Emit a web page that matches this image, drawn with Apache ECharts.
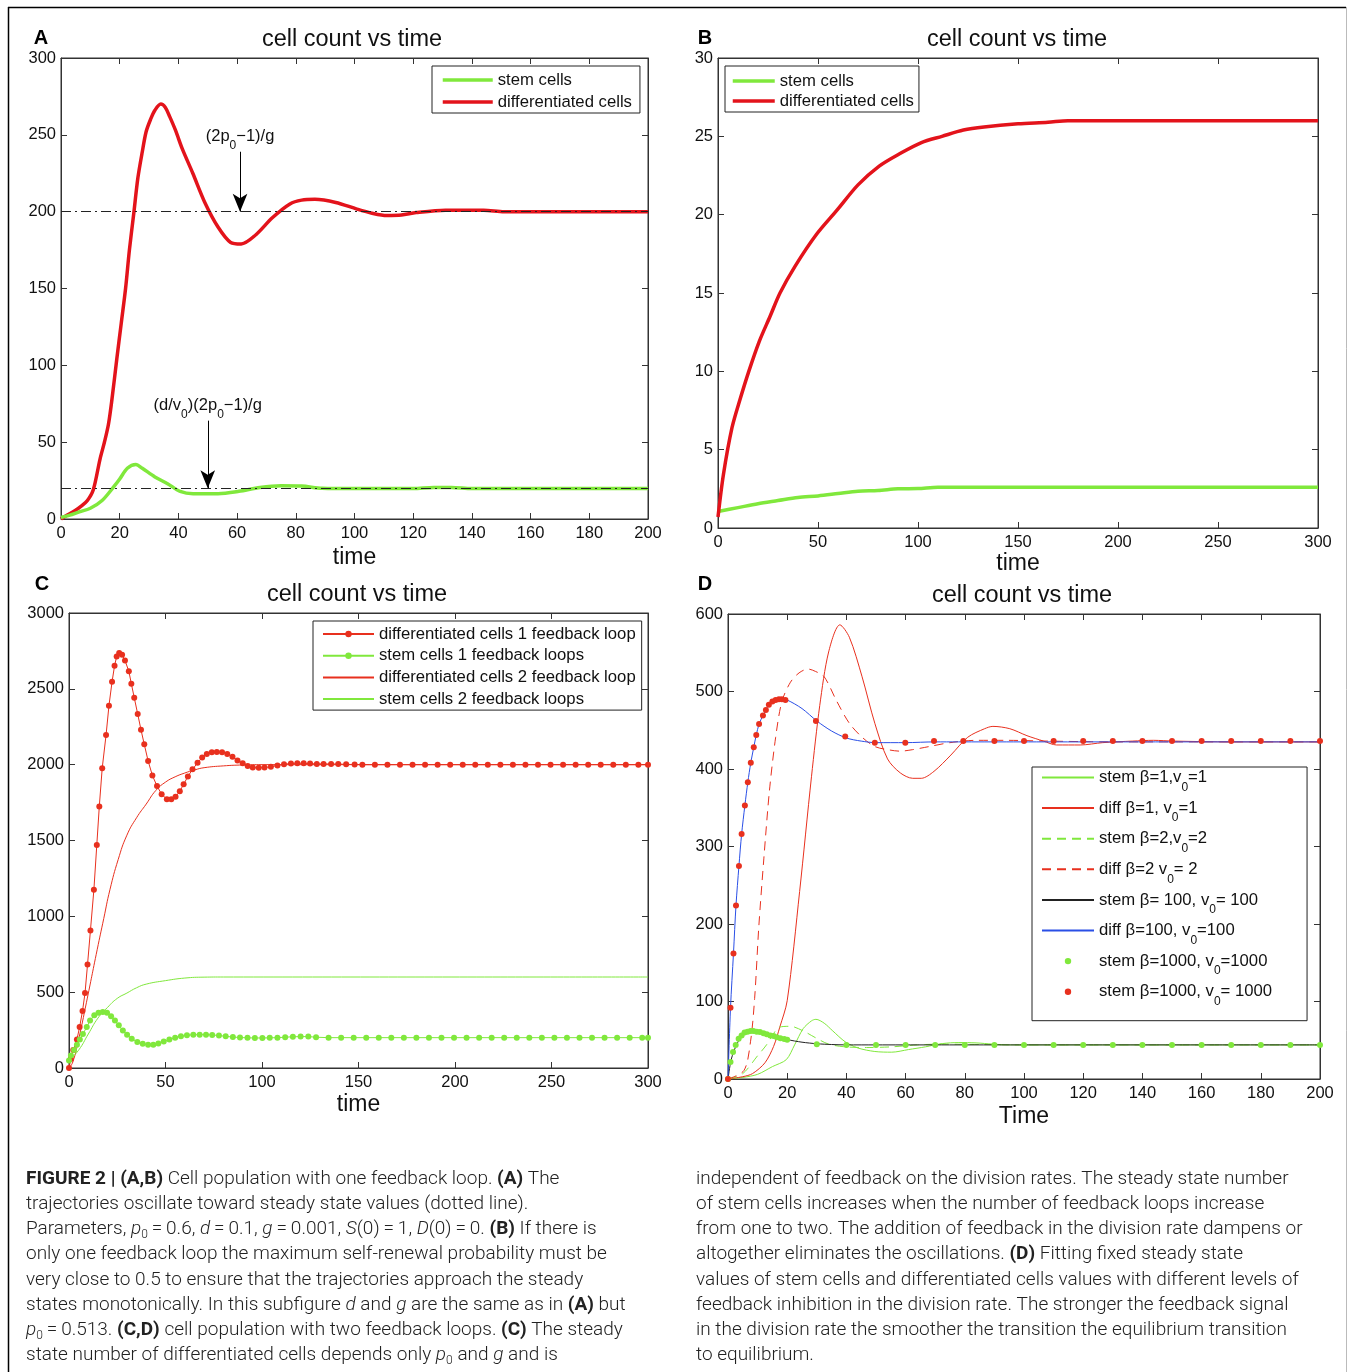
<!DOCTYPE html>
<html><head><meta charset="utf-8">
<script src="https://cdn.jsdelivr.net/npm/echarts@6/dist/echarts.min.js"></script>
<style>html,body{margin:0;padding:0;background:#fff}#c{width:1354px;height:1372px}</style>
</head><body><div id="c"></div><script>
// ---------- Panel A ----------
const diffA_t = [0,2,4.7,7,9,11,13.3,14.8,16.2,17.5,19,20.5,22,23.3,24.8,26.2,27.7,29,30.5,32,34,35.5,37,39,41.3,44.9,49,53.5,57.8,61.4,66.4,72,78,82,86.5,93.6,100.8,106,111,116,121,131,144,151,160,180,200];
const diffA_v = [0,2.5,5.3,8.5,12,19,39,50,62,80,104,127,150,175,199,222,239,252,260,266,270,268,262,253,241,225,206,190,180,179,185,196,205,207.5,208,206,201.7,199,197.5,197.8,199.4,201,201,200,200,200,200];
const stemA_t = [0,3,6,10,14,18,20,22.6,25.5,27.7,32,36.3,40.6,45,53.5,60.6,67.8,75,82,89,100,120,127,133,140,160,180,200];
const stemA_v = [1,2.5,4.5,7,12,21,26,33,35.5,33,27.4,23,18,16.5,16.5,18,20.5,21.6,21.4,20,19.8,19.8,20.5,20.5,19.8,19.8,19.8,19.8];
const steadyA = [200, 20];
// ---------- Panel B ----------
const diffB_t = [0,2.7,7,11,15.4,20.6,26,31,38.5,49,59.6,70,80.6,91,101.7,112,122.7,133,150,165,175,200,250,300];
const diffB_v = [0.7,3.4,6.4,8.2,10,11.9,13.5,15,16.7,18.7,20.3,21.9,23.1,23.9,24.6,25,25.4,25.6,25.8,25.9,26,26,26,26];
const stemB_t = [0,10,20,30,40,50,60,70,80,90,100,110,150,200,250,300];
const stemB_v = [1.05,1.3,1.55,1.75,1.95,2.05,2.2,2.35,2.4,2.5,2.52,2.6,2.6,2.6,2.6,2.6];
// ---------- Panel C ----------
const diffC1_t = [0,1,2.2,4.1,5.5,7,8.3,9.6,11.1,12.9,14.4,15.7,17.2,19.2,20.7,22.3,23.6,24.7,26,27.5,29,31,32.3,33.8,35.6,37.3,39,41,43.2,45.6,48,50.7,53,55.2,57.4,59.4,61.6,64,66.6,69,71.4,74,76.6,79.3,82,84.7,87.3,90,92.6,95.2,98.3,101.3,104.6,108,111.4,115,118.3,121.6,124.9,128.4,131.9,135.8,139.5,143.6,148,152,158.5,165,171.5,178,184.5,191,197.5,204,210.5,217,223.5,230,236.5,243,249.5,256,262.5,269,275.5,282,288.5,295,300];
const diffC1_v = [0,60,118,188,270,376,494,682,906,1176,1470,1725,1976,2195,2388,2546,2652,2713,2736,2725,2687,2616,2534,2442,2334,2230,2134,2024,1929,1859,1805,1772,1772,1788,1824,1871,1922,1969,2012,2047,2071,2082,2084,2082,2071,2052,2028,2009,1991,1981,1979,1981,1986,1995,2003,2008,2010,2009,2007,2005,2005,2005,2004,2002,2001,2000,2000,2000,2000,2000,2000,2000,2000,2000,2000,2000,2000,2000,2000,2000,2000,2000,2000,2000,2000,2000,2000,2000,2000];
const stemC1_t = [0,1,2.6,4.1,5.6,7.2,9.2,10.9,13.1,15.3,17.5,19.7,21.8,23.8,25.8,27.9,30.1,32.5,35.4,38.2,41,43.7,46.3,49.1,52,55,58,61.1,64.4,67.7,71,74.2,77.7,81.2,84.9,88.6,92.5,96.3,100.2,104,108,112,116,120,124,128,134.5,141,147.5,154,160.5,167,173.5,180,186.5,193,199.5,206,212.5,219,225.5,232,238.5,245,251.5,258,264.5,271,277.5,284,290.5,297,300];
const stemC1_v = [50,82,118,153,188,224,270,313,348,365,369,365,341,313,282,247,219,193,172,160,153,153,162,174,188,200,210,216,219,220,220,218,214,209,204,201,199,198,198,199,200,203,206,207,207,203,200,200,200,200,200,200,200,200,200,200,200,200,200,200,200,200,200,200,200,200,200,200,200,200,200,200,200];
const diffC2_t = [0,2,5,9,14.6,18,21.2,25.5,30,35,40,45,50,55,60,65,70,80,90,100,300];
const diffC2_v = [0,40,190,430,780,985,1175,1375,1535,1650,1740,1830,1885,1920,1945,1965,1980,1992,1998,2000,2000];
const stemC2_t = [0,5,10,15,20,25,30,35,40,50,60,70,80,300];
const stemC2_v = [50,118,224,329,400,459,494,529,553,576,593,599,600,600];
// ---------- Panel D ----------
const stem1D_t = [0,5,10,15,19.7,22.5,25.4,28.2,29.7,32.5,35.4,39.6,43.9,49.6,55.3,61,66.7,72.4,78,83.8,89.5,95,110,130,150,200];
const stem1D_v = [0,2,6,16,25,44,65,75,77,72,62,48,40,35.5,34.6,38,41.5,45.7,47,46.6,45,44,44,44,44,44];
const diff1D_t = [0,5,8.3,12.5,15.4,17.5,20,24.2,28.2,31,34,37.8,41,45.3,49.6,53.9,58.2,62.4,65.3,69.6,75.3,81,86.7,89.5,95.2,101,106.6,111,119,126.6,136.6,143.7,150.8,170,200];
const diff1D_v = [0,3,7,21,42,67,101,242,390,482,551,586,570,519,459,413,395,388,388,397,418,441,452,455,452,443,436,431,431,434,436,437,436,435,435];
const stem2D_t = [0,5,10,13,16,17.5,21.1,25.4,29.7,34,39.6,46.8,55.3,63.9,72,85,100,200];
const stem2D_v = [0,7,30,44,62,67,68,62,53,45,41.5,40.6,41.5,44,45,44.5,44,44];
const diff2D_t = [0,5.4,7.6,9,10.4,12.1,14,16.1,18.2,21.1,24,27,29.5,32.5,36.8,41,45.3,49.6,53.9,58.2,62.4,68,75,84,94,108,130,200];
const diff2D_v = [0,11,48,104,196,284,372,441,487,512,524,529,526,519,487,459,441,429,425,423,425,429,434,437,437,436,435,435];
const stem100D_t = [0,1,2,3,4,5,6,8,10,12,14,16,18,20,25,30,35,40,50,200];
const stem100D_v = [0,24,36,45,52,56,59,61.5,61,59,56.5,54.5,52.5,50.8,47.5,45.5,44.5,44,44,44];
const diff100D_t = [0,0.85,1.85,2.7,3.7,4.6,5.7,6.7,7.7,8.7,9.55,10.5,11.8,12.8,13.8,15,16.1,17.2,18.2,20,25,30,35,40,45,50,60,70,200];
const diff100D_v = [0,92,162,224,275,316,353,383,408,428,444,458,469,476,483,487,489,490,490,489,478,462,449,440,436,434,434,435,435];
const stem1000D_t = [0,0.85,1.7,2.6,3.6,4.6,5.6,6.6,7.6,8.6,9.7,10.8,12,13.1,14.3,15.4,16.5,17.7,19,20,30,40,50,60,70,80,90,100,110,120,130,140,150,160,170,180,190,200];
const stem1000D_v = [0,22,35,44,52,56,60,61,62,62,61,60.5,59,57.7,56,55.4,54,52.6,51.7,50.8,45,44,44,44,44,44,44,44,44,44,44,44,44,44,44,44,44,44];
const diff1000D_t = [0,0.85,1.85,2.7,3.7,4.6,5.7,6.7,7.7,8.7,9.55,10.5,11.8,12.8,13.8,15,16.1,17.2,18.2,19.4,29.7,39.6,49.6,59.9,69.6,79.5,90,100,110,120,130,140,150,160,170,180,190,200];
const diff1000D_v = [0,92,162,224,275,316,353,383,408,428,444,458,469,476,483,487,489,490,490,489,462,442,434,434,436,436,436,436,436,436,436,436,436,436,436,436,436,436];

// ---------- labels ----------
const titleText = 'cell count vs time';
const legendA = ['stem cells', 'differentiated cells'];
const legendC = ['differentiated cells 1 feedback loop', 'stem cells 1 feedback loops', 'differentiated cells 2 feedback loop', 'stem cells 2 feedback loops'];
// D legend labels: [before subscript, subscript, after]
const legendD = [
  ['stem β=1,v', '0', '=1'],
  ['diff β=1, v', '0', '=1'],
  ['stem β=2,v', '0', '=2'],
  ['diff β=2 v', '0', '= 2'],
  ['stem β= 100, v', '0', '= 100'],
  ['diff β=100, v', '0', '=100'],
  ['stem β=1000, v', '0', '=1000'],
  ['stem β=1000, v', '0', '= 1000']
];
const captionLeft = [
  '{b|FIGURE 2 | (A,B)} Cell population with one feedback loop. {b|(A)} The',
  'trajectories oscillate toward steady state values (dotted line).',
  'Parameters, {i|p}{s|0}\u2009=\u20090.6, {i|d}\u2009=\u20090.1, {i|g}\u2009=\u20090.001, {i|S}(0)\u2009=\u20091, {i|D}(0)\u2009=\u20090. {b|(B)} If there is',
  'only one feedback loop the maximum self-renewal probability must be',
  'very close to 0.5 to ensure that the trajectories approach the steady',
  'states monotonically. In this subfigure {i|d} and {i|g} are the same as in {b|(A)} but',
  '{i|p}{s|0}\u2009=\u20090.513. {b|(C,D)} cell population with two feedback loops. {b|(C)} The steady',
  'state number of differentiated cells depends only {i|p}{s|0} and {i|g} and is'
];
const captionRight = [
  'independent of feedback on the division rates. The steady state number',
  'of stem cells increases when the number of feedback loops increase',
  'from one to two. The addition of feedback in the division rate dampens or',
  'altogether eliminates the oscillations. {b|(D)} Fitting fixed steady state',
  'values of stem cells and differentiated cells values with different levels of',
  'feedback inhibition in the division rate. The stronger the feedback signal',
  'in the division rate the smoother the transition the equilibrium transition',
  'to equilibrium.'
];

// ---------- build ----------
const FONT = '"Liberation Sans", Arial, Helvetica, sans-serif';
const GREEN = '#80e83c', RED = '#e3131b', DRED = '#e8301e', BLUE = '#2a4fe6';
const zip = (t, v) => t.map((x, i) => [x, v[i]]);

const grids = [
  {left: 61, top: 58, width: 587, height: 461},
  {left: 718, top: 58, width: 600, height: 470},
  {left: 69, top: 613, width: 579, height: 455},
  {left: 728, top: 614, width: 592, height: 465}
].map(g => Object.assign({show: true, borderColor: '#333', borderWidth: 1, backgroundColor: '#fff'}, g));

const xr = [[0,200,20],[0,300,50],[0,300,50],[0,200,20]];
const yr = [[0,300,50],[0,30,5],[0,3000,500],[0,600,100]];
const xNames = ['time','time','time','Time'];
const nameGaps = [27, 22, 25, 26];

const axisLbl = {fontFamily: FONT, fontSize: 16.5, color: '#111', formatter: v => String(v)};
const xAxes = [], yAxes = [];
for (let i = 0; i < 4; i++) {
  xAxes.push({type: 'value', gridIndex: i, min: xr[i][0], max: xr[i][1], interval: xr[i][2],
    name: xNames[i], nameLocation: 'middle', nameGap: nameGaps[i],
    nameTextStyle: {fontFamily: FONT, fontSize: 23, color: '#111'},
    axisLine: {show: true, onZero: false, lineStyle: {color: '#333'}},
    axisTick: {show: true, inside: true, length: 6, lineStyle: {color: '#333'}},
    axisLabel: Object.assign({margin: 6}, axisLbl), splitLine: {show: false}});
  yAxes.push({type: 'value', gridIndex: i, min: yr[i][0], max: yr[i][1], interval: yr[i][2],
    axisLine: {show: true, onZero: false, lineStyle: {color: '#333'}},
    axisTick: {show: true, inside: true, length: 6, lineStyle: {color: '#333'}},
    axisLabel: Object.assign({margin: 5}, axisLbl), splitLine: {show: false}});
}
for (let i = 0; i < 4; i++) {
  xAxes.push({type: 'value', gridIndex: i, position: 'top', min: xr[i][0], max: xr[i][1], interval: xr[i][2],
    axisLine: {show: true, onZero: false, lineStyle: {color: '#333'}},
    axisTick: {show: true, inside: true, length: 6, lineStyle: {color: '#333'}},
    axisLabel: {show: false}, splitLine: {show: false}});
  yAxes.push({type: 'value', gridIndex: i, position: 'right', min: yr[i][0], max: yr[i][1], interval: yr[i][2],
    axisLine: {show: true, onZero: false, lineStyle: {color: '#333'}},
    axisTick: {show: true, inside: true, length: 6, lineStyle: {color: '#333'}},
    axisLabel: {show: false}, splitLine: {show: false}});
}

function line(name, gi, data, color, width, extra) {
  return Object.assign({
    type: 'line', name, xAxisIndex: gi, yAxisIndex: gi, data,
    symbol: 'none', smooth: 0.3, silent: true, animation: false,
    lineStyle: {color, width}, itemStyle: {color}
  }, extra || {});
}

const dashDot = [10, 4, 2, 4];
const richLbl = {
  n: {fontFamily: FONT, fontSize: 16.5, color: '#111', lineHeight: 22},
  s: {fontFamily: FONT, fontSize: 12, color: '#111', lineHeight: 22, verticalAlign: 'bottom', padding: [0,0,-4,0]}
};

const series = [
  line('differentiated cells', 0, zip(diffA_t, diffA_v), RED, 3.5, {
    markLine: {silent: true, symbol: ['none','none'], animation: false,
      lineStyle: {color: '#222', width: 1, type: dashDot},
      label: {show: false},
      data: [{yAxis: steadyA[0]}, {yAxis: steadyA[1]}]}
  }),
  line('stem cells', 0, zip(stemA_t, stemA_v), GREEN, 3.5, {
    markLine: {silent: true, animation: false, symbol: ['none', 'arrow'], symbolSize: [11, 18],
      lineStyle: {color: '#000', width: 1, type: 'solid'},
      label: {show: true, position: 'start', distance: 4, rich: richLbl},
      data: [
        [{coord: [61, 239], label: {formatter: '{n|(2p}{s|0}{n|−1)/g}'}}, {coord: [61, steadyA[0]]}],
        [{coord: [50, 64], label: {formatter: '{n|(d/v}{s|0}{n|)(2p}{s|0}{n|−1)/g}'}}, {coord: [50, steadyA[1]]}]
      ]}
  }),
  line('stem cells', 1, zip(stemB_t, stemB_v), GREEN, 3.5),
  line('differentiated cells', 1, zip(diffB_t, diffB_v), RED, 3.5),
  line(legendC[0], 2, zip(diffC1_t, diffC1_v), DRED, 1, {symbol: 'circle', symbolSize: 6, showSymbol: true, smooth: false}),
  line(legendC[1], 2, zip(stemC1_t, stemC1_v), GREEN, 1, {symbol: 'circle', symbolSize: 6, showSymbol: true, smooth: false}),
  line(legendC[2], 2, zip(diffC2_t, diffC2_v), DRED, 1, {smooth: 0.5}),
  line(legendC[3], 2, zip(stemC2_t, stemC2_v), GREEN, 1, {smooth: 0.5}),
];
const dNames = legendD.map(a => a.join(''));
series.push(
  line(dNames[0], 3, zip(stem1D_t, stem1D_v), GREEN, 1),
  line(dNames[1], 3, zip(diff1D_t, diff1D_v), DRED, 1),
  line(dNames[2], 3, zip(stem2D_t, stem2D_v), GREEN, 1, {lineStyle: {color: GREEN, width: 1, type: [9, 6]}}),
  line(dNames[3], 3, zip(diff2D_t, diff2D_v), DRED, 1, {lineStyle: {color: DRED, width: 1, type: [9, 6]}}),
  line(dNames[4], 3, zip(stem100D_t, stem100D_v), '#222', 1),
  line(dNames[5], 3, zip(diff100D_t, diff100D_v), BLUE, 1),
  line(dNames[6], 3, zip(stem1000D_t, stem1000D_v), GREEN, 0, {symbol: 'circle', symbolSize: 6, showSymbol: true, lineStyle: {opacity: 0, width: 0}, z: 3}),
  line(dNames[7], 3, zip(diff1000D_t, diff1000D_v), DRED, 0, {symbol: 'circle', symbolSize: 6, showSymbol: true, lineStyle: {opacity: 0, width: 0}, z: 3})
);

const LFS = 16.7;
const legBase = {orient: 'vertical', selectedMode: false, backgroundColor: '#fff', borderColor: '#222', borderWidth: 1,
  textStyle: {fontFamily: FONT, fontSize: LFS, color: '#111', lineHeight: 20}, itemWidth: 50};
const thick = n => ({name: n, itemStyle: {opacity: 0}, lineStyle: {width: 3.5}});
const legends = [
  Object.assign({}, legBase, {left: 432, top: 66, padding: [4, 8, 1, 9], itemHeight: 10, itemGap: 2,
    data: legendA.map(thick)}),
  Object.assign({}, legBase, {left: 725, top: 66, padding: [6, 5, 2, 6], itemHeight: 10, itemGap: 2, itemWidth: 42,
    textStyle: {fontFamily: FONT, fontSize: LFS, color: '#111', lineHeight: 18},
    data: legendA.map(thick)}),
  Object.assign({}, legBase, {left: 313, top: 621, padding: [3.5, 6, 1.5, 9], itemHeight: 8, itemGap: 2.7, itemWidth: 51,
    textStyle: {fontFamily: FONT, fontSize: LFS, color: '#111', lineHeight: 19},
    data: [{name: legendC[0]}, {name: legendC[1]}, {name: legendC[2], itemStyle: {opacity: 0}}, {name: legendC[3], itemStyle: {opacity: 0}}]}),
  Object.assign({}, legBase, {left: 1032, top: 767, padding: [2, 35, 13, 9], itemHeight: 8, itemGap: 6.1, itemWidth: 52,
    textStyle: {fontFamily: FONT, fontSize: LFS, color: '#111', rich: {
      n: {fontFamily: FONT, fontSize: LFS, color: '#111', lineHeight: 22},
      s: {fontFamily: FONT, fontSize: 12, color: '#111', lineHeight: 22, verticalAlign: 'bottom', padding: [0, 0, -5, 0]}}},
    formatter: name => { const a = legendD[dNames.indexOf(name)]; return '{n|' + a[0] + '}{s|' + a[1] + '}{n|' + a[2] + '}'; },
    data: dNames.map((n, i) => i >= 6 ? {name: n, lineStyle: {opacity: 0}} : {name: n, itemStyle: {opacity: 0}})})
];

// graphics: frame, titles, panel letters, caption
const graphic = [
  {type: 'line', shape: {x1: 8, y1: 7.5, x2: 1346, y2: 7.5}, style: {stroke: '#000', lineWidth: 1.5}, silent: true},
  {type: 'line', shape: {x1: 8.5, y1: 7, x2: 8.5, y2: 1372}, style: {stroke: '#000', lineWidth: 1.5}, silent: true},
  {type: 'line', shape: {x1: 1346.5, y1: 7, x2: 1346.5, y2: 1372}, style: {stroke: '#bbb', lineWidth: 1}, silent: true}
];
const titlePos = [[352, 40], [1017, 40], [357, 595], [1022, 596]];
titlePos.forEach(p => graphic.push({type: 'text', x: p[0], y: p[1], silent: true,
  style: {text: titleText, fontFamily: FONT, fontSize: 23.5, fill: '#111', align: 'center', verticalAlign: 'middle'}}));
const letters = [['A', 41, 38], ['B', 705, 38], ['C', 42, 584], ['D', 705, 584]];
letters.forEach(l => graphic.push({type: 'text', x: l[1], y: l[2], silent: true,
  style: {text: l[0], fontFamily: FONT, fontSize: 20, fontWeight: 'bold', fill: '#000', align: 'center', verticalAlign: 'middle'}}));
const CFONT = 'Roboto, "Liberation Sans", sans-serif';
const CFS = 19;
const capRich = {
  b: {fontFamily: CFONT, fontSize: CFS, fontWeight: 'bold', fill: '#222'},
  i: {fontFamily: CFONT, fontSize: CFS, fontStyle: 'italic', fontWeight: 300, fill: '#222'},
  s: {fontFamily: CFONT, fontSize: 12, fontWeight: 300, fill: '#222', verticalAlign: 'bottom', lineHeight: 24}
};
function capLine(txt, x, y) {
  graphic.push({type: 'text', x, y, silent: true, style: {text: txt, fontFamily: CFONT, fontSize: CFS, fontWeight: 300, fill: '#222',
    verticalAlign: 'middle', align: 'left', rich: capRich}});
}
captionLeft.forEach((t, i) => capLine(t, 26, 1179 + i * 25.2));
captionRight.forEach((t, i) => capLine(t, 696, 1179 + i * 25.2));

const chart = echarts.init(document.getElementById('c'), null, {renderer: 'canvas'});
chart.setOption({
  animation: false,
  backgroundColor: '#fff',
  textStyle: {fontFamily: FONT},
  grid: grids, xAxis: xAxes, yAxis: yAxes, series, legend: legends, graphic
});
</script></body></html>
